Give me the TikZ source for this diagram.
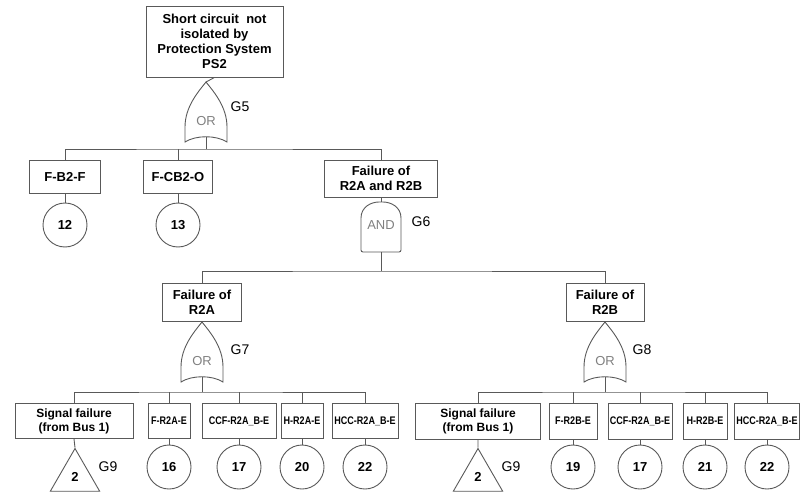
\documentclass[tikz,border=0pt]{standalone}
\usepackage{fontspec}
\setmainfont{Liberation Sans}
\newfontfamily\narrowfont[FakeStretch=0.82]{Liberation Sans}
\usetikzlibrary{
  shapes.geometric          % 转移门三角形
}

\definecolor{linegray}{gray}{0.35}
\definecolor{gatetext}{gray}{0.5}

\tikzset{
  wire/.style={draw=linegray, line width=0.9pt},
  event/.style={draw=linegray, line width=0.9pt, rectangle, align=center,
    inner sep=1pt, font=\fontsize{13}{15}\selectfont\bfseries},
  smallevent/.style={event, font=\narrowfont\fontsize{11}{13}\selectfont\bfseries},
  signalevent/.style={event, font=\fontsize{12}{14}\selectfont\bfseries},
  basic/.style={draw=linegray, line width=0.9pt, circle, minimum size=44pt,
    inner sep=0pt, font=\fontsize{13}{15}\selectfont\bfseries},
  transfer/.style={draw=linegray, line width=0.9pt, regular polygon,
    regular polygon sides=3, minimum size=57pt, inner sep=0pt,
    font=\fontsize{13}{15}\selectfont\bfseries},
  gatename/.style={font=\fontsize{14}{16}\selectfont},
  gatetxt/.style={text=gatetext, font=\fontsize{13}{15}\selectfont},
  % 或门
  orgate/.pic={
    \draw[wire] (0,0) .. controls (-8,10) and (-21,25) .. (-21,45) -- (-21,60)
      .. controls (-10,53) and (10,53) .. (21,60) -- (21,45)
      .. controls (21,25) and (8,10) .. cycle;
    \node[gatetxt] at (0,39) {OR};
    \coordinate (-top) at (0,0);
    \coordinate (-bot) at (0,55);
  },
  % 与门
  andgate/.pic={
    \draw[wire, rounded corners=2pt] (-20,50) -- (-20,18)
      .. controls (-20,5) and (-10,0) .. (0,0)
      .. controls (10,0) and (20,5) .. (20,18) -- (20,50) -- cycle;
    \node[gatetxt] at (0,23) {AND};
    \coordinate (-top) at (0,0);
    \coordinate (-bot) at (0,50);
  }
}

\begin{document}
\begin{tikzpicture}[x=1pt, y=-1pt]
  \useasboundingbox (0,0) rectangle (802,492);

  % ===== 顶事件 =====
  \node[event, minimum width=137pt, minimum height=71pt] (top) at (214.5,41.5)
    {Short circuit\ \ not\\isolated by\\Protection System\\PS2};
  \pic (g5) at (206,82) {orgate};
  \node[gatename] (g5name) at (240,107) {G5};
  \coordinate (bus2) at (206,149);

  % ===== 第二层 =====
  \node[event, minimum width=71pt, minimum height=33pt] (fb2f) at (65,177) {F-B2-F};
  \node[event, minimum width=69pt, minimum height=33pt] (fcb2o) at (178,177) {F-CB2-O};
  \node[event, minimum width=113pt, minimum height=37pt] (r2ab) at (381,178.5)
    {Failure of\\R2A and R2B};
  \node[basic] (c12) at (65,225) {12};
  \node[basic] (c13) at (178,225) {13};
  \pic (g6) at (381,202) {andgate};
  \node[gatename] (g6name) at (421,222) {G6};
  \coordinate (bus3) at (381,271);

  \draw[wire] (top.south) -- (g5-top);
  \draw[wire] (g5-bot) -- (bus2);
  \draw[wire] (fb2f.north) |- (bus2) -| (r2ab.north);
  \draw[wire] (fcb2o.north) -- (fcb2o.north |- bus2);
  \draw[wire] (fb2f.south) -- (c12.north);
  \draw[wire] (fcb2o.south) -- (c13.north);
  \draw[wire] (r2ab.south) -- (g6-top);
  \draw[wire] (g6-bot) -- (bus3);

  % ===== 第三层 =====
  \node[event, minimum width=79pt, minimum height=38pt] (r2a) at (202,302)
    {Failure of\\R2A};
  \node[event, minimum width=78pt, minimum height=38pt] (r2b) at (605,302)
    {Failure of\\R2B};
  \draw[wire] (r2a.north) |- (bus3) -| (r2b.north);

  \pic (g7) at (202,322) {orgate};
  \node[gatename] (g7name) at (240,350) {G7};
  \pic (g8) at (605,322) {orgate};
  \node[gatename] (g8name) at (642,350) {G8};
  \draw[wire] (r2a.south) -- (g7-top);
  \draw[wire] (r2b.south) -- (g8-top);
  \coordinate (bus4a) at (202,392);
  \coordinate (bus4b) at (605,392);
  \draw[wire] (g7-bot) -- (bus4a);
  \draw[wire] (g8-bot) -- (bus4b);

  % ===== 左分支 R2A =====
  \node[signalevent, minimum width=118pt, minimum height=35pt] (sigA) at (74,421)
    {Signal failure\\(from Bus 1)};
  \node[smallevent, minimum width=42pt, minimum height=35pt] (fA) at (169,421) {F-R2A-E};
  \node[smallevent, minimum width=74pt, minimum height=35pt] (ccfA) at (239,421) {CCF-R2A\_B-E};
  \node[smallevent, minimum width=42pt, minimum height=35pt] (hA) at (302,421) {H-R2A-E};
  \node[smallevent, minimum width=66pt, minimum height=35pt] (hccA) at (365,421) {HCC-R2A\_B-E};
  \node[transfer] (triA) at (75,477) {2};
  \node[gatename] (g9a) at (108,467) {G9};
  \node[basic] (c16) at (169,467) {16};
  \node[basic] (c17a) at (239,467) {17};
  \node[basic] (c20) at (302,467) {20};
  \node[basic] (c22a) at (365,467) {22};

  \draw[wire] (sigA.north) |- (bus4a) -| (hccA.north);
  \foreach \n in {fA, ccfA, hA}
    \draw[wire] (\n.north) -- (\n.north |- bus4a);
  \draw[wire] (sigA.south) -- (triA.north);
  \draw[wire] (fA.south) -- (c16.north);
  \draw[wire] (ccfA.south) -- (c17a.north);
  \draw[wire] (hA.south) -- (c20.north);
  \draw[wire] (hccA.south) -- (c22a.north);

  % ===== 右分支 R2B =====
  \node[signalevent, minimum width=125pt, minimum height=36pt] (sigB) at (478,421)
    {Signal failure\\(from Bus 1)};
  \node[smallevent, minimum width=48pt, minimum height=36pt] (fB) at (573,421) {F-R2B-E};
  \node[smallevent, minimum width=64pt, minimum height=36pt] (ccfB) at (640,421) {CCF-R2A\_B-E};
  \node[smallevent, minimum width=44pt, minimum height=36pt] (hB) at (705,421) {H-R2B-E};
  \node[smallevent, minimum width=65pt, minimum height=36pt] (hccB) at (767,421) {HCC-R2A\_B-E};
  \node[transfer] (triB) at (478,477) {2};
  \node[gatename] (g9b) at (511,467) {G9};
  \node[basic] (c19) at (573,467) {19};
  \node[basic] (c17b) at (640,467) {17};
  \node[basic] (c21) at (705,467) {21};
  \node[basic] (c22b) at (767,467) {22};

  \draw[wire] (sigB.north) |- (bus4b) -| (hccB.north);
  \foreach \n in {fB, ccfB, hB}
    \draw[wire] (\n.north) -- (\n.north |- bus4b);
  \draw[wire] (sigB.south) -- (triB.north);
  \draw[wire] (fB.south) -- (c19.north);
  \draw[wire] (ccfB.south) -- (c17b.north);
  \draw[wire] (hB.south) -- (c21.north);
  \draw[wire] (hccB.south) -- (c22b.north);
\end{tikzpicture}
\end{document}
